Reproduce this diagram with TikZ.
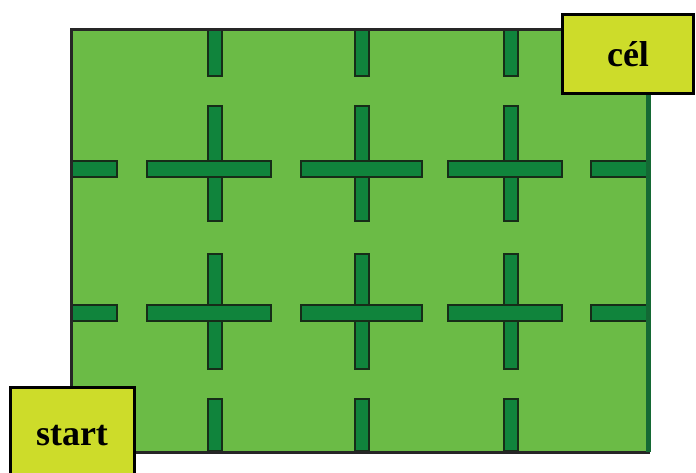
\documentclass[tikz,border=0pt]{standalone}
\usepackage{fontspec}
\setmainfont{Liberation Serif}
\definecolor{field}{RGB}{107,187,70}
\definecolor{wall}{RGB}{16,132,60}
\definecolor{walledge}{RGB}{22,45,24}
\definecolor{rim}{RGB}{20,105,52}
\definecolor{label}{RGB}{205,220,42}
\tikzset{
  seg/.style={fill=wall, draw=walledge, line width=2.5pt},
  tag/.style={fill=label, draw=black, line width=3pt, inner sep=0pt, font=\bfseries\fontsize{36}{40}\selectfont}
}
\begin{document}
\begin{tikzpicture}[x=1pt,y=-1pt]
\useasboundingbox (0,0) rectangle (696,472);
\clip (0,0) rectangle (696,472);
\fill[white] (0,0) rectangle (696,472);
% field
\fill[field] (71,29) rectangle (650,452);
% vertical wall segments
\foreach \x in {215,362,511}{
  \foreach \a/\b in {29/77,105/222,253/370,398/452}{
    \draw[seg] (\x-7,\a+1) rectangle (\x+7,\b-1);
  }
}
% horizontal wall segments
\foreach \y in {169,313}{
  \foreach \a/\b in {71/118,146/272,300/423,447/563,590/650}{
    \draw[seg] (\a+1,\y-8) rectangle (\b-1,\y+8);
  }
}
% redraw crossings so they look continuous
\foreach \x in {215,362,511}{
  \foreach \y in {169,313}{
    \fill[wall] (\x-6,\y-7) rectangle (\x+6,\y+7);
  }
}
% rim
\draw[line width=3pt, draw=black!85] (650,29) -- (71,29) -- (71,452) -- (650,452);
\draw[line width=5pt, draw=rim] (648,29) -- (648,452);
% labels
\node[tag, minimum width=131pt, minimum height=79pt] (goal) at (628,54) {cél};
\node[tag, minimum width=124pt, minimum height=90pt, text height=26pt, text depth=0pt] (start) at (72,432) {start};
\end{tikzpicture}
\end{document}
